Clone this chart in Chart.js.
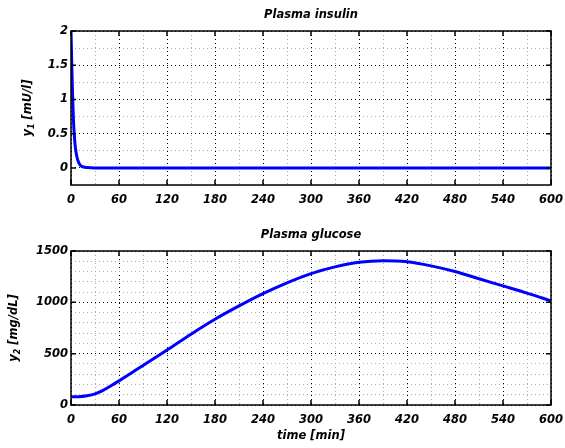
<!DOCTYPE html>
<html>
<head>
<meta charset="utf-8">
<script src="https://cdn.jsdelivr.net/npm/chart.js@4.4.1/dist/chart.umd.min.js"></script>
<style>
  html, body { margin: 0; padding: 0; background: #fff; }
  #wrap { position: relative; width: 565px; height: 448px; }
  canvas { position: absolute; left: 0; }
  #insulinCanvas { top: 0; }
  #glucoseCanvas { top: 224px; }
</style>
</head>
<body>
<div id="wrap">
  <canvas id="insulinCanvas" width="565" height="224"></canvas>
  <canvas id="glucoseCanvas" width="565" height="224"></canvas>
</div>
<script>
// Plasma insulin y1 [mU/l] over time [min]
const insulinTime  = [0, 1, 2, 3, 4, 5, 6, 8, 10, 12, 15, 20, 30, 600];
const insulinLevel = [2, 1.5, 1.05, 0.72, 0.5, 0.35, 0.25, 0.13, 0.07, 0.035, 0.015, 0.004, 0, 0];

// Plasma glucose y2 [mg/dL] over time [min]
const glucoseTime  = [0, 10, 20, 30, 40, 50, 60, 75, 90, 105, 120, 150, 180, 210, 240,
                      270, 300, 330, 360, 390, 420, 450, 480, 510, 540, 570, 600];
const glucoseLevel = [80, 81, 90, 108, 142, 187, 235, 310, 385, 460, 535, 690, 835, 965, 1085,
                      1190, 1280, 1345, 1390, 1405, 1395, 1355, 1300, 1230, 1160, 1090, 1015];

// labelled (major) ticks
const timeTicks    = [0, 60, 120, 180, 240, 300, 360, 420, 480, 540, 600];
const insulinTicks = [0, 0.5, 1, 1.5, 2];
const glucoseTicks = [0, 500, 1000, 1500];

const FAMILY = '"DejaVu Sans", sans-serif';
const tickFont = { family: 'DejaVu Sans', size: 11.5, style: 'italic', weight: 'bold' };

// every grid position (major + minor) from min to max in given steps
function gridValues(min, max, step) {
  const out = [];
  const n = Math.round((max - min) / step);
  for (let k = 0; k <= n; k++) out.push(Math.round((min + k * step) * 1000) / 1000);
  return out;
}

function isMajor(list, v) {
  return list.some(m => Math.abs(m - v) < 1e-9);
}

// draws "y<sub>n</sub> [unit]" rotated, baseline at bx, centred on cy
function drawYLabel(ctx, main, sub, rest, bx, cy) {
  ctx.save();
  ctx.font = 'italic bold 11.5px ' + FAMILY;
  const w1 = ctx.measureText(main).width;
  const w3 = ctx.measureText(rest).width;
  ctx.font = 'italic bold 8px ' + FAMILY;
  const w2 = ctx.measureText(sub).width;
  const total = w1 + w2 + w3;
  ctx.translate(bx, cy);
  ctx.rotate(-Math.PI / 2);
  ctx.fillStyle = '#000';
  ctx.textBaseline = 'alphabetic';
  ctx.textAlign = 'left';
  let u = -total / 2;
  ctx.font = 'italic bold 11.5px ' + FAMILY;
  ctx.fillText(main, u, 0);
  u += w1;
  ctx.font = 'italic bold 8px ' + FAMILY;
  ctx.fillText(sub, u, 3);
  u += w2;
  ctx.font = 'italic bold 11.5px ' + FAMILY;
  ctx.fillText(rest, u, 0);
  ctx.restore();
}

// frame, inward tick marks, title and axis labels
const decorPlugin = {
  id: 'decor',
  afterDatasetsDraw(chart, args, opts) {
    const { ctx, chartArea: a, scales } = chart;
    ctx.save();
    ctx.strokeStyle = '#000';
    ctx.lineWidth = 1.5;
    ctx.beginPath();
    timeTicks.forEach(v => {
      const px = scales.x.getPixelForValue(v);
      ctx.moveTo(px, a.bottom); ctx.lineTo(px, a.bottom - 5);
      ctx.moveTo(px, a.top); ctx.lineTo(px, a.top + 5);
    });
    opts.yMajors.forEach(v => {
      const py = scales.y.getPixelForValue(v);
      ctx.moveTo(a.left, py); ctx.lineTo(a.left + 5, py);
      ctx.moveTo(a.right, py); ctx.lineTo(a.right - 5, py);
    });
    ctx.stroke();
    ctx.strokeRect(a.left, a.top, a.right - a.left, a.bottom - a.top);

    ctx.fillStyle = '#000';
    ctx.font = 'italic bold 11.5px ' + FAMILY;
    ctx.textAlign = 'center';
    ctx.textBaseline = 'alphabetic';
    const cx = (a.left + a.right) / 2;
    ctx.fillText(opts.title, cx, a.top - 13);
    if (opts.xLabel) ctx.fillText(opts.xLabel, cx, 215);
    ctx.restore();

    drawYLabel(ctx, 'y', opts.ySub, ' [' + opts.yUnit + ']', opts.yLabelX, (a.top + a.bottom) / 2);
  }
};

function makeChart(id, xs, ys, yMin, yMax, yStep, yMajors, deco, padTop) {
  const yGrid = gridValues(yMin, yMax, yStep);
  const xGrid = gridValues(0, 600, 30);
  return new Chart(document.getElementById(id).getContext('2d'), {
    type: 'line',
    data: {
      datasets: [{
        data: xs.map((x, i) => ({ x: x, y: ys[i] })),
        borderColor: '#0000ff',
        borderWidth: 3,
        pointRadius: 0,
        fill: false,
        cubicInterpolationMode: 'monotone'
      }]
    },
    options: {
      responsive: false,
      animation: false,
      events: [],
      layout: { padding: { top: padTop, right: 14, left: 0, bottom: 0 } },
      plugins: { legend: { display: false }, tooltip: { enabled: false }, decor: deco },
      scales: {
        x: {
          type: 'linear',
          min: 0, max: 600,
          afterBuildTicks: s => { s.ticks = xGrid.map(v => ({ value: v })); },
          afterFit: s => {
            s.height = 224 - padTop - 154;
            s.paddingLeft = 0;
            s.paddingRight = 0;
          },
          border: { display: false, dash: [1, 3] },
          grid: {
            drawTicks: false,
            lineWidth: 1,
            color: c => (c.tick && isMajor(timeTicks, c.tick.value)) ? '#000' : '#a8a8a8'
          },
          ticks: {
            autoSkip: false, maxRotation: 0, padding: 8,
            color: '#000', font: tickFont,
            callback: v => isMajor(timeTicks, v) ? String(v) : ''
          }
        },
        y: {
          type: 'linear',
          min: yMin, max: yMax,
          afterBuildTicks: s => { s.ticks = yGrid.map(v => ({ value: v })); },
          afterFit: s => {
            s.width = 71;
            s.paddingTop = 0;
            s.paddingBottom = 0;
          },
          border: { display: false, dash: [1, 3] },
          grid: {
            drawTicks: false,
            lineWidth: 1,
            color: c => (c.tick && isMajor(yMajors, c.tick.value)) ? '#000' : '#a8a8a8'
          },
          ticks: {
            autoSkip: false, padding: 3,
            color: '#000', font: tickFont,
            callback: v => isMajor(yMajors, v) ? String(v) : ''
          }
        }
      }
    },
    plugins: [decorPlugin]
  });
}

const insulinChart = makeChart('insulinCanvas', insulinTime, insulinLevel, -0.25, 2, 0.25, insulinTicks,
  { title: 'Plasma insulin', ySub: '1', yUnit: 'mU/l', yLabelX: 30.5, yMajors: insulinTicks }, 31);

const glucoseChart = makeChart('glucoseCanvas', glucoseTime, glucoseLevel, 0, 1500, 100, glucoseTicks,
  { title: 'Plasma glucose', ySub: '2', yUnit: 'mg/dL', yLabelX: 17, yMajors: glucoseTicks, xLabel: 'time [min]' }, 27);
</script>
</body>
</html>
